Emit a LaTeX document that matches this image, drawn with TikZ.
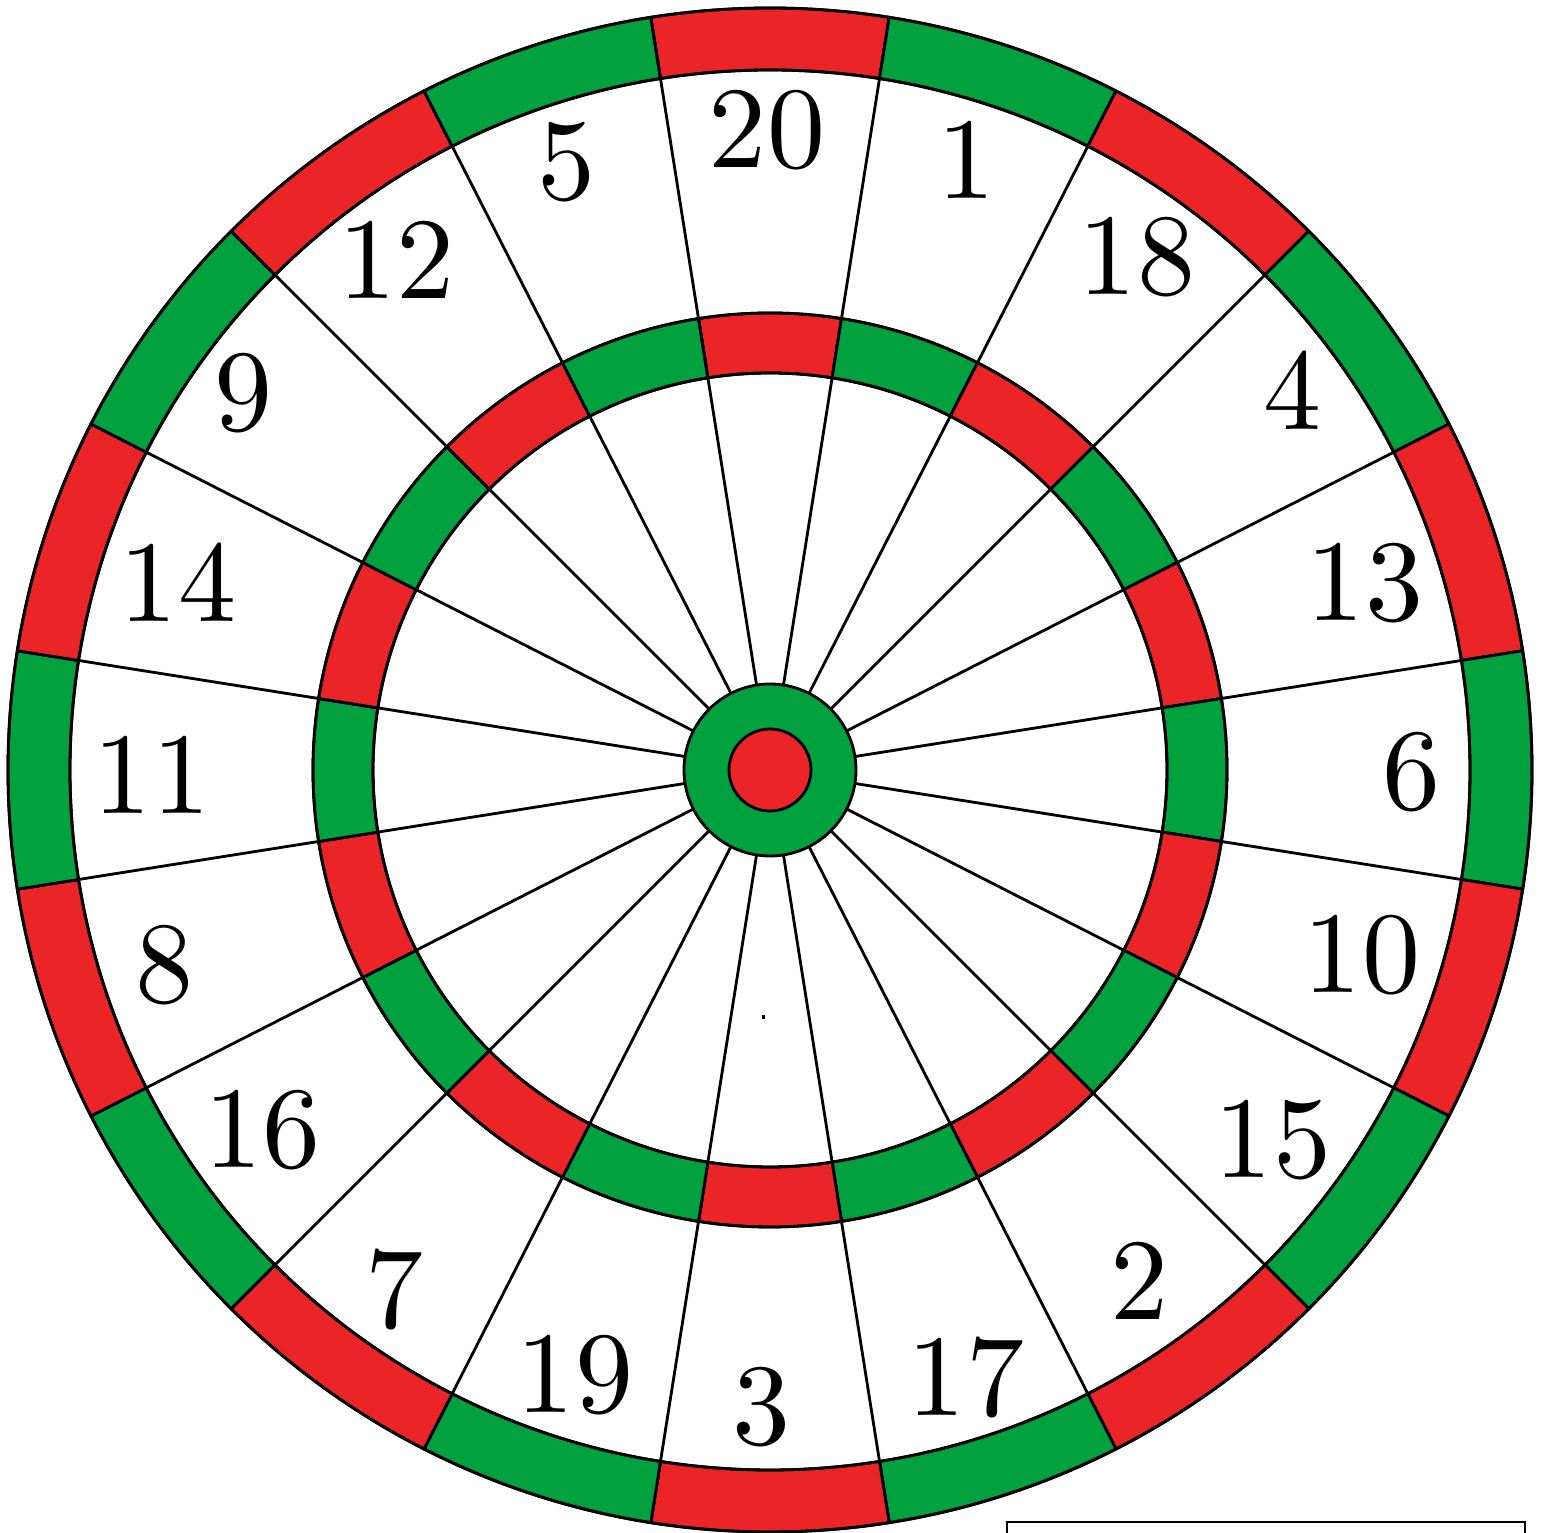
\documentclass[tikz,border=0pt]{standalone}
\definecolor{dartred}{RGB}{234,36,39}
\definecolor{dartgreen}{RGB}{0,161,62}
\begin{document}
\begin{tikzpicture}[x=0.01cm,y=0.01cm,line width=0.8pt,
  num/.style={inner sep=0pt,font=\fontsize{10}{12}\selectfont,scale=3.3},
  seg/.style={draw=black,line join=miter}]
\useasboundingbox (0,0) rectangle (1541,1533);
\fill[white] (0,0) rectangle (1541,1533);
\coordinate (C) at (770,763);
% double and treble rings
\foreach \k in {0,...,19}{
  \pgfmathsetmacro{\s}{81-18*\k}
  \pgfmathsetmacro{\e}{99-18*\k}
  \ifodd\k \def\col{dartgreen}\else \def\col{dartred}\fi
  \path[seg,fill=\col] ([shift={(\s:700)}]C) arc[start angle=\s,end angle=\e,radius=700]
     -- ([shift={(\e:762)}]C) arc[start angle=\e,end angle=\s,radius=762] -- cycle;
  \path[seg,fill=\col] ([shift={(\s:397)}]C) arc[start angle=\s,end angle=\e,radius=397]
     -- ([shift={(\e:457)}]C) arc[start angle=\e,end angle=\s,radius=457] -- cycle;
  \draw ([shift={(\s:86)}]C) -- ([shift={(\s:762)}]C);
}
\draw (C) circle[radius=762];
\draw (C) circle[radius=700];
\draw (C) circle[radius=457];
\draw (C) circle[radius=397];
% bull
\filldraw[fill=dartgreen] (C) circle[radius=86];
\filldraw[fill=dartred] (C) circle[radius=41];
% numbers
\foreach \t/\px/\py in {20/767/130, 1/967/160, 18/1137/257, 4/1293/390,
  13/1365/583, 6/1412/772, 10/1362/955, 15/1273/1140, 2/1140/1281,
  17/966/1378, 3/762/1407, 19/575/1375, 7/395/1290, 16/263/1130,
  8/165/965, 11/152/775, 14/178/582, 9/244/393, 12/397/260, 5/567/162}{
  \node[num] (n\t) at (\px,1533-\py) {\t};
}
% small dot
\fill (762,514) rectangle (765,518);
% partial frame at bottom right
\draw (1007,-30) rectangle (1525,11);
\end{tikzpicture}
\end{document}
